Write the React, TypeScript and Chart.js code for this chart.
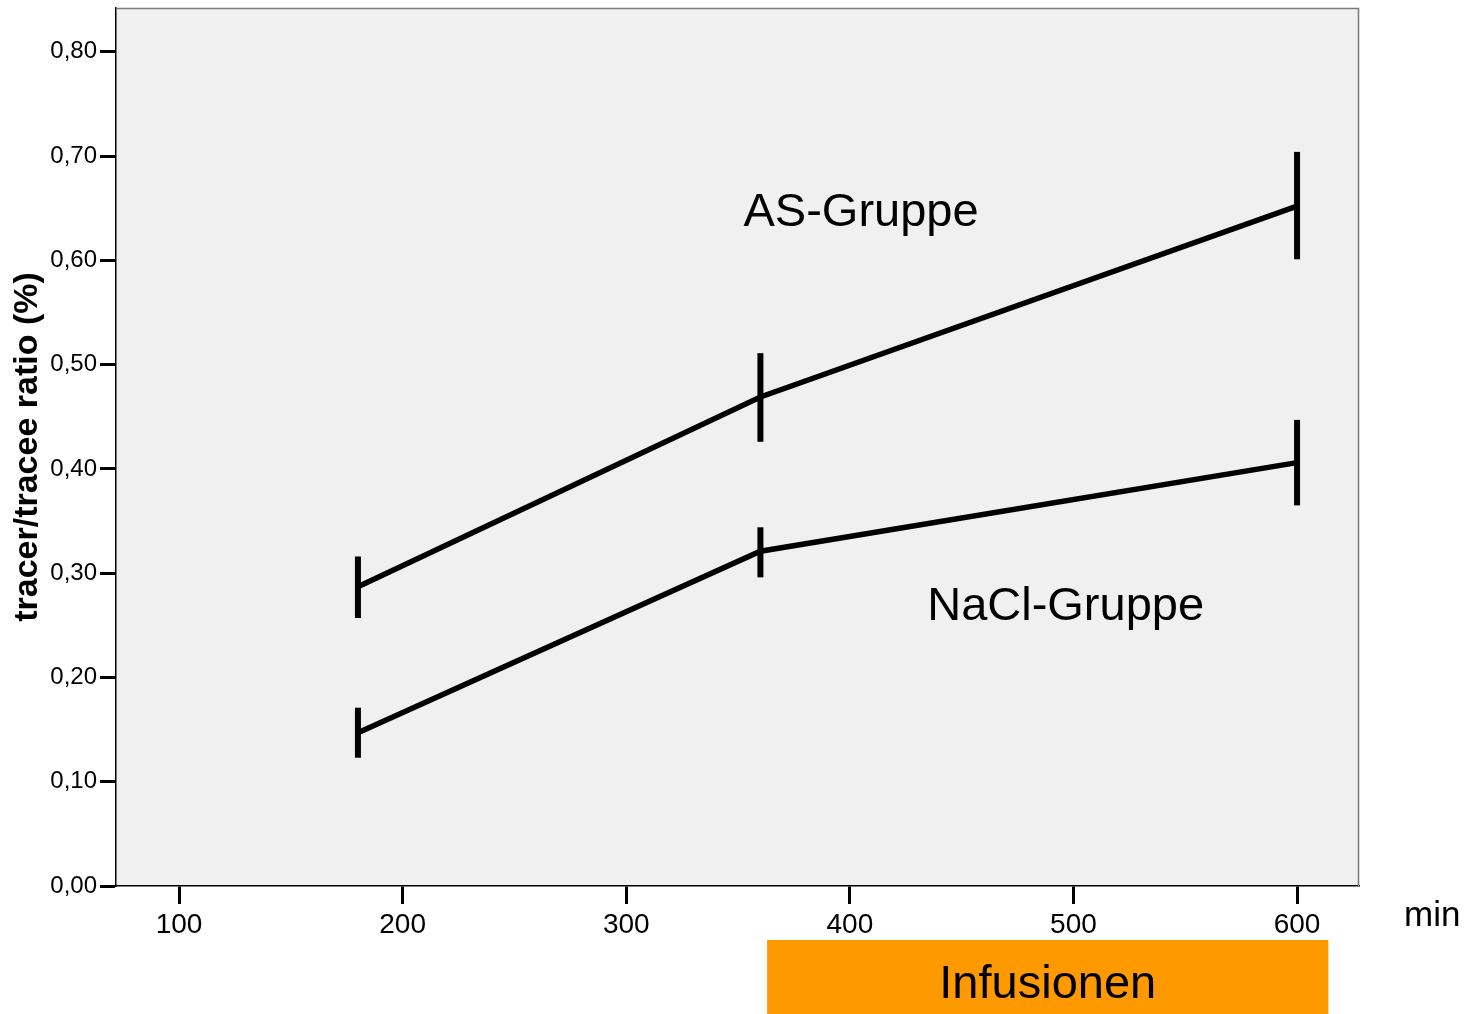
import React, { useEffect, useRef } from "react";
import { Chart, registerables } from "chart.js";

Chart.register(...registerables);

// ---- data ----
const timePoints = [180, 360, 600];
const asMean = [0.287, 0.469, 0.652];
const asUpper = [0.316, 0.511, 0.704];
const asLower = [0.257, 0.426, 0.601];
const naclMean = [0.147, 0.321, 0.406];
const naclUpper = [0.171, 0.344, 0.447];
const naclLower = [0.123, 0.296, 0.365];

const xTicks = [100, 200, 300, 400, 500, 600];
const yTicks = [0, 0.1, 0.2, 0.3, 0.4, 0.5, 0.6, 0.7, 0.8];
const xRange = [71.8, 627.7];
const yRange = [0, 0.842];
const infusionRange = [363, 614];

const groupNames = ["AS-Gruppe", "NaCl-Gruppe"];
const xUnit = "min";
const yTitle = "tracer/tracee ratio (%)";
const infusionLabel = "Infusionen";

// label anchors (data coordinates)
const groupLabelX = [405, 496.5];
const groupLabelY = [0.633, 0.255];

const FONT = '"Liberation Sans", Arial, Helvetica, sans-serif';

function errorBarSets(lower: number[], upper: number[]) {
  return timePoints.map((t, i) => ({
    label: "err",
    data: [
      { x: t, y: lower[i] },
      { x: t, y: upper[i] },
    ],
    borderColor: "#000000",
    borderWidth: 6,
    borderCapStyle: "butt" as const,
    pointRadius: 0,
    pointHoverRadius: 0,
    fill: false,
  }));
}

const decorPlugin = {
  id: "decor",
  beforeDraw(chart: any) {
    const { ctx, chartArea } = chart;
    ctx.save();
    ctx.fillStyle = "#F0F0F0";
    ctx.fillRect(chartArea.left, chartArea.top, chartArea.right - chartArea.left, chartArea.bottom - chartArea.top);
    ctx.restore();
  },
  afterDraw(chart: any) {
    const { ctx, chartArea, scales } = chart;
    const xs = scales.x;
    const ys = scales.y;
    ctx.save();
    // top & right frame
    ctx.strokeStyle = "#7a7a7a";
    ctx.lineWidth = 1.5;
    ctx.beginPath();
    ctx.moveTo(chartArea.left, chartArea.top + 0.5);
    ctx.lineTo(chartArea.right - 0.5, chartArea.top + 0.5);
    ctx.lineTo(chartArea.right - 0.5, chartArea.bottom);
    ctx.stroke();

    // group labels
    ctx.fillStyle = "#000000";
    ctx.font = `47px ${FONT}`;
    ctx.textAlign = "center";
    ctx.textBaseline = "alphabetic";
    groupNames.forEach((name, i) => {
      ctx.fillText(name, xs.getPixelForValue(groupLabelX[i]), ys.getPixelForValue(groupLabelY[i]));
    });

    // unit label
    ctx.font = `35px ${FONT}`;
    ctx.textAlign = "left";
    ctx.fillText(xUnit, chartArea.right + 45, chartArea.bottom + 40);

    // infusion bar
    const x0 = xs.getPixelForValue(infusionRange[0]);
    const x1 = xs.getPixelForValue(infusionRange[1]);
    const top = chartArea.bottom + 54;
    ctx.fillStyle = "#FF9900";
    ctx.fillRect(x0, top, x1 - x0, chart.height - top);
    ctx.fillStyle = "#000000";
    ctx.font = `47px ${FONT}`;
    ctx.textAlign = "center";
    ctx.fillText(infusionLabel, (x0 + x1) / 2, top + 58);
    ctx.restore();
  },
};

export default function App() {
  const ref = useRef<HTMLCanvasElement | null>(null);

  useEffect(() => {
    if (!ref.current) return;
    const chart = new Chart(ref.current, {
      type: "line",
      data: {
        datasets: [
          {
            label: groupNames[0],
            data: timePoints.map((t, i) => ({ x: t, y: asMean[i] })),
            borderColor: "#000000",
            borderWidth: 5.5,
            pointRadius: 0,
            tension: 0,
            fill: false,
          },
          {
            label: groupNames[1],
            data: timePoints.map((t, i) => ({ x: t, y: naclMean[i] })),
            borderColor: "#000000",
            borderWidth: 5.5,
            pointRadius: 0,
            tension: 0,
            fill: false,
          },
          ...errorBarSets(asLower, asUpper),
          ...errorBarSets(naclLower, naclUpper),
        ],
      },
      options: {
        animation: false,
        responsive: false,
        maintainAspectRatio: false,
        events: [],
        layout: { padding: { top: 8, right: 118, left: 0, bottom: 0 } },
        plugins: {
          legend: { display: false },
          tooltip: { enabled: false },
          title: { display: false },
        },
        scales: {
          x: {
            type: "linear",
            min: xRange[0],
            max: xRange[1],
            afterBuildTicks: (scale: any) => {
              scale.ticks = xTicks.map((v) => ({ value: v }));
            },
            afterFit: (scale: any) => {
              scale.height = 128;
              scale.paddingLeft = 0;
              scale.paddingRight = 0;
            },
            ticks: {
              color: "#000000",
              font: { family: FONT, size: 28 },
              padding: 4,
              maxRotation: 0,
              autoSkip: false,
              callback: (v: any) => String(v),
            },
            grid: {
              drawOnChartArea: false,
              drawTicks: true,
              tickLength: 18,
              tickWidth: 3,
              tickColor: "#000000",
              color: "#000000",
            },
            border: { display: true, color: "#000000", width: 1.5 },
          },
          y: {
            type: "linear",
            min: yRange[0],
            max: yRange[1],
            afterBuildTicks: (scale: any) => {
              scale.ticks = yTicks.map((v) => ({ value: v }));
            },
            afterFit: (scale: any) => {
              scale.width = 116;
              scale.paddingTop = 0;
              scale.paddingBottom = 0;
            },
            ticks: {
              color: "#000000",
              font: { family: FONT, size: 24 },
              padding: 3,
              autoSkip: false,
              callback: (v: any) => Number(v).toFixed(2).replace(".", ","),
            },
            grid: {
              drawOnChartArea: false,
              drawTicks: true,
              tickLength: 16,
              tickWidth: 3,
              tickColor: "#000000",
              color: "#000000",
            },
            border: { display: true, color: "#000000", width: 1.5 },
            title: {
              display: true,
              text: yTitle,
              color: "#000000",
              font: { family: FONT, size: 34, weight: "bold" },
              padding: { top: 7, bottom: 0 },
            },
          },
        },
      },
      plugins: [decorPlugin],
    });
    return () => chart.destroy();
  }, []);

  return (
    <div style={{ position: "absolute", left: 0, top: 0, width: 1477, height: 1014, background: "#ffffff" }}>
      <canvas ref={ref} width={1477} height={1014} style={{ display: "block", width: 1477, height: 1014 }} />
    </div>
  );
}
